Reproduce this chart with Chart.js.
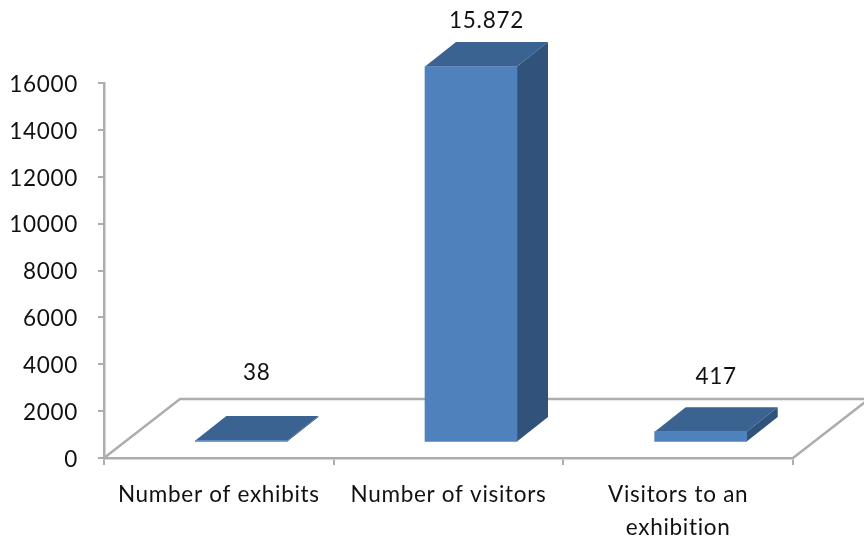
<!DOCTYPE html>
<html><head><meta charset="utf-8">
<style>html,body{margin:0;padding:0;background:#fff;overflow:hidden}#wrap{width:864px;height:543px}canvas{display:block;filter:blur(0.45px)}</style>
<script src="https://cdn.jsdelivr.net/npm/chart.js@4"></script>
</head><body><div id="wrap"><canvas id="c" width="864" height="543"></canvas></div>
<script>
const categories = [["Number of exhibits"], ["Number of visitors"], ["Visitors to an", "exhibition"]];
const values = [38, 15872, 417];
const valueLabels = ["38", "15.872", "417"];
const yTicks = [0, 2000, 4000, 6000, 8000, 10000, 12000, 14000, 16000];
const labelLift = [68, 46, 55];

const FONT = 'Lato';
const AXIS = '#adadad';
const FRONT = '#4f81bd', TOP = '#3b6391', SIDE = '#31527a';
const shift = {x: 22.5, y: -16.5};  // bars stand in the middle of the floor
const depth = {x: 31, y: -24.5};    // bar depth
const floor = {x: 76, y: -59};      // floor depth

const perspective = {
  id: 'perspective',
  beforeDraw(chart) { chart.ctx.letterSpacing = '0.7px'; },
  beforeDatasetsDraw(chart) {
    const {ctx, chartArea: a} = chart;
    ctx.save();
    ctx.strokeStyle = AXIS; ctx.lineWidth = 2.5;
    ctx.beginPath();
    ctx.moveTo(a.left, a.bottom);
    ctx.lineTo(a.left + floor.x, a.bottom + floor.y);
    ctx.lineTo(a.right + floor.x, a.bottom + floor.y);
    ctx.lineTo(a.right, a.bottom);
    ctx.stroke();
    ctx.restore();
  },
  beforeDatasetDraw(chart) {
    const ctx = chart.ctx;
    ctx.save();
    ctx.translate(shift.x, shift.y);
    chart.getDatasetMeta(0).data.forEach(b => {
      const l = b.x - b.width / 2, r = b.x + b.width / 2;
      ctx.fillStyle = TOP;
      ctx.beginPath();
      ctx.moveTo(l, b.y); ctx.lineTo(l + depth.x, b.y + depth.y);
      ctx.lineTo(r + depth.x, b.y + depth.y); ctx.lineTo(r, b.y);
      ctx.closePath(); ctx.fill();
      ctx.fillStyle = SIDE;
      ctx.beginPath();
      ctx.moveTo(r, b.y); ctx.lineTo(r + depth.x, b.y + depth.y);
      ctx.lineTo(r + depth.x, b.base + depth.y); ctx.lineTo(r, b.base);
      ctx.closePath(); ctx.fill();
    });
  },
  afterDatasetDraw(chart) { chart.ctx.restore(); },
  afterDatasetsDraw(chart) {
    const ctx = chart.ctx;
    ctx.save();
    ctx.font = '22.5px ' + FONT;
    ctx.fillStyle = '#111';
    ctx.textAlign = 'center'; ctx.textBaseline = 'middle';
    chart.getDatasetMeta(0).data.forEach((b, i) => {
      ctx.fillText(valueLabels[i], b.x + shift.x + depth.x / 2, b.y + shift.y - labelLift[i]);
    });
    ctx.restore();
  }
};

new Chart(document.getElementById('c'), {
  type: 'bar',
  data: {labels: categories, datasets: [{
    data: values, yAxisID: 'yBars', backgroundColor: FRONT, barThickness: 92, borderWidth: 0, clip: false
  }]},
  options: {
    responsive: false, animation: false, devicePixelRatio: 1,
    layout: {padding: {left: 0, right: 71, top: 83, bottom: 0}},
    plugins: {legend: {display: false}, title: {display: false}, tooltip: {enabled: false}},
    scales: {
      x: {
        afterFit(s) { s.height = 85; },
        grid: {drawOnChartArea: false, drawTicks: true, tickLength: 7, color: AXIS, lineWidth: 2, offset: true},
        border: {color: AXIS, width: 2.5},
        ticks: {maxRotation: 0, minRotation: 0, autoSkip: false, color: '#111', padding: 13,
                font: {family: FONT, size: 22.5, lineHeight: 1.47}}
      },
      y: {
        min: 0, max: 16000,
        afterFit(s) { s.width = 104; },
        afterBuildTicks(s) { s.ticks = yTicks.map(v => ({value: v})); },
        grid: {drawOnChartArea: false, drawTicks: true, tickLength: 6, color: AXIS, lineWidth: 2},
        border: {color: AXIS, width: 2.5},
        ticks: {color: '#111', padding: 20, labelOffset: 1.5, font: {family: FONT, size: 22.5},
                callback: v => String(v)}
      },
      yBars: {display: false, min: 0, max: 15872}
    }
  },
  plugins: [perspective]
});
</script></body></html>
